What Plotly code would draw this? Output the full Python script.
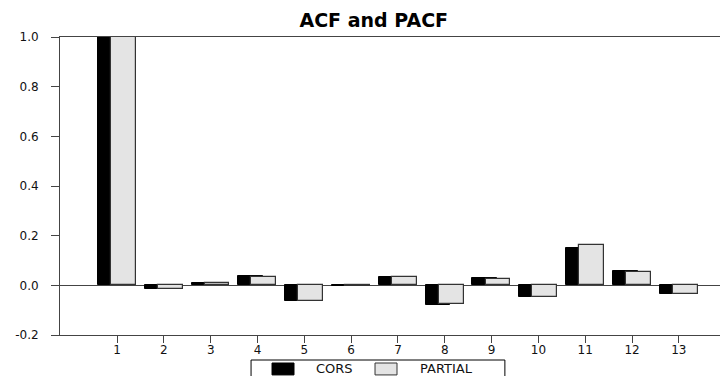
import plotly.graph_objects as go

lags = [1, 2, 3, 4, 5, 6, 7, 8, 9, 10, 11, 12, 13]
cors = [1.0, -0.016, 0.010, 0.036, -0.063, -0.003, 0.035, -0.079, 0.030, -0.045, 0.152, 0.059, -0.035]
partial = [1.0, -0.016, 0.009, 0.035, -0.062, -0.003, 0.035, -0.074, 0.025, -0.045, 0.161, 0.053, -0.035]
y_ticks = [-0.2, 0.0, 0.2, 0.4, 0.6, 0.8, 1.0]
series_names = ["CORS", "PARTIAL"]
fill_colors = ["#000000", "#e4e4e4"]
edge_colors = ["#000000", "#333333"]

font = "DejaVu Sans, Liberation Sans, Arial, sans-serif"

fig = go.Figure()
fig.add_trace(go.Bar(x=lags, y=cors, name=series_names[0], width=0.53, offset=-0.41, showlegend=False,
                     marker=dict(color=fill_colors[0], line=dict(color=edge_colors[0], width=1))))
fig.add_trace(go.Bar(x=lags, y=partial, name=series_names[1], width=0.53, offset=-0.13, showlegend=False,
                     marker=dict(color=fill_colors[1], line=dict(color=edge_colors[1], width=1.2))))

# legend drawn as a box with swatches and labels below the axis
shapes = [dict(type="rect", xref="paper", yref="paper", x0=0.286, x1=0.666, y0=-0.0839, y1=-0.2,
               line=dict(color="#000", width=1), fillcolor="white")]
annotations = []
sw_x = [0.3174, 0.4716]
tx_x = [0.3802, 0.5359]
for i in range(2):
    shapes.append(dict(type="rect", xref="paper", yref="paper", x0=sw_x[i], x1=sw_x[i] + 0.0329,
                       y0=-0.094, y1=-0.134, fillcolor=fill_colors[i],
                       line=dict(color=edge_colors[i], width=1)))
    annotations.append(dict(text=series_names[i], xref="paper", yref="paper", x=tx_x[i], y=-0.114,
                            xanchor="left", yanchor="middle", showarrow=False,
                            font=dict(family=font, size=13, color="#111")))

fig.update_layout(
    width=720, height=368,
    barmode="overlay",
    plot_bgcolor="white", paper_bgcolor="white",
    margin=dict(l=52, r=0, t=29, b=41, autoexpand=False),
    font=dict(family=font, size=12, color="#111"),
    title=dict(text="<b>ACF and PACF</b>", x=0.508, xanchor="center", yref="container", y=0.967,
               yanchor="middle", font=dict(size=19, family=font, color="#000")),
    xaxis=dict(range=[-0.22, 14.05], tickmode="array", tickvals=lags, ticktext=[str(v) for v in lags],
               showgrid=False, zeroline=False, showline=True, mirror=True, linecolor="#444", linewidth=1,
               ticks="outside", ticklen=7, tickcolor="#444", tickfont=dict(size=12), automargin=False,
               ticklabelstandoff=-3),
    yaxis=dict(range=[-0.2, 1.0], tickmode="array", tickvals=y_ticks,
               ticktext=[f"{v:.1f}" for v in y_ticks],
               showgrid=False, zeroline=True, zerolinecolor="#444", zerolinewidth=1,
               showline=True, linecolor="#444", linewidth=1,
               ticks="outside", ticklen=8, tickcolor="#444", tickfont=dict(size=12), automargin=False,
               ticklabelstandoff=10),
    shapes=shapes,
    annotations=annotations,
    bargap=0,
)
fig.write_html("out.html")
